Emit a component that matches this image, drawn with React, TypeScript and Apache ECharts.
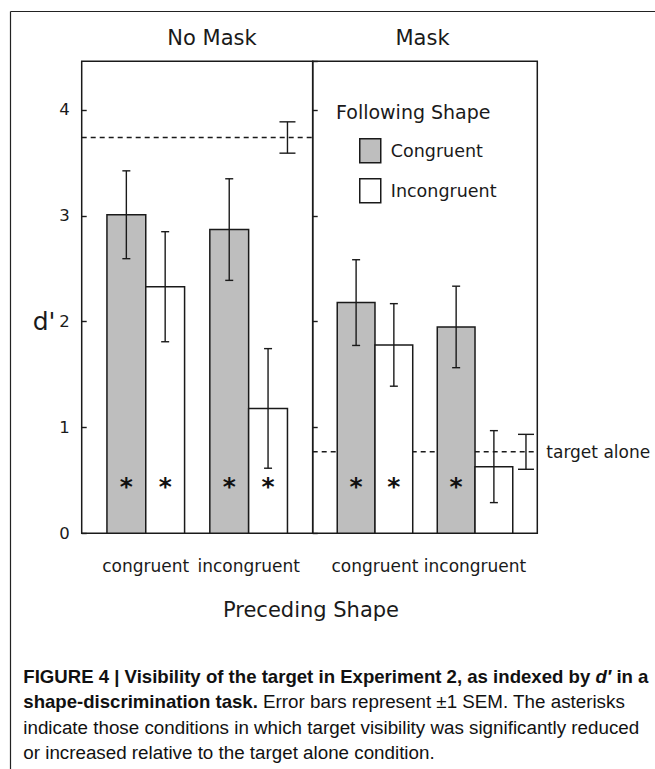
import React, { useEffect, useRef } from 'react';
import * as echarts from 'echarts';

// ---------------- data ----------------
const panels = ['No Mask', 'Mask'];
const precedingShapes = ['congruent', 'incongruent'];
const followingShapes = ['Congruent', 'Incongruent'];
// index = panel * 2 + preceding shape
const congruentMeans = [3.01, 2.87, 2.18, 1.95];
const congruentSEM = [0.415, 0.48, 0.405, 0.385];
const incongruentMeans = [2.33, 1.18, 1.78, 0.63];
const incongruentSEM = [0.52, 0.565, 0.39, 0.34];
const congruentSignificant = [1, 1, 1, 1];
const incongruentSignificant = [1, 1, 1, 0];
const targetAloneMeans = [3.74, 0.77];
const targetAloneSEM = [0.148, 0.165];
const yTickValues = [0, 1, 2, 3, 4];
const yAxisName = "d'";
const xAxisName = 'Preceding Shape';
const legendTitle = 'Following Shape';
const targetAloneLabel = 'target alone';

// ---------------- layout / style ----------------
const GAP = 0.65;
const X_MAX = 4 + 3 * GAP;
const Y_MAX = 4.46;
const TARGET_ERR_X = [5.3, 5.65];
const ASTERISK_Y = 0.47;
const INK = '#1a1a1a';
const GRAY = '#bebebe';
const CHART_FONT = '"DejaVu Sans", sans-serif';
const CAP_FONT = '"Liberation Sans", Arial, sans-serif';

const GRID_TOP = 61.3;
const GRID_H = 472;
const GRIDS = [
  { left: 81.7, width: 231 },
  { left: 312.7, width: 224.6 },
];

function buildOption() {
  const series: any[] = [];
  panels.forEach((panel, p) => {
    series.push({
      type: 'custom',
      name: targetAloneLabel,
      xAxisIndex: p,
      yAxisIndex: p,
      z: 1,
      silent: true,
      data: [[targetAloneMeans[p], targetAloneSEM[p]]],
      renderItem: (params: any, api: any) => {
        const m = api.value(0);
        const s = api.value(1);
        const a = api.coord([0, m]);
        const b = api.coord([X_MAX, m]);
        const cx = api.coord([TARGET_ERR_X[p], m])[0];
        const yt = api.coord([0, m + s])[1];
        const yb = api.coord([0, m - s])[1];
        const ls = { stroke: INK, lineWidth: 1.4 };
        const children: any[] = [
          { type: 'line', shape: { x1: a[0], y1: a[1], x2: b[0], y2: b[1] }, style: { ...ls, lineDash: [5, 4] } },
          { type: 'line', shape: { x1: cx, y1: yt, x2: cx, y2: yb }, style: ls },
          { type: 'line', shape: { x1: cx - 8, y1: yt, x2: cx + 8, y2: yt }, style: ls },
          { type: 'line', shape: { x1: cx - 8, y1: yb, x2: cx + 8, y2: yb }, style: ls },
        ];
        if (p === 1) {
          children.push({
            type: 'text',
            x: b[0] + 9,
            y: a[1],
            style: { text: targetAloneLabel, fill: INK, fontSize: 17, fontFamily: CHART_FONT, align: 'left', verticalAlign: 'middle' },
          });
        }
        return { type: 'group', children };
      },
    });

    followingShapes.forEach((fs, f) => {
      const means = f === 0 ? congruentMeans : incongruentMeans;
      const sems = f === 0 ? congruentSEM : incongruentSEM;
      const sig = f === 0 ? congruentSignificant : incongruentSignificant;
      series.push({
        type: 'custom',
        name: fs,
        xAxisIndex: p,
        yAxisIndex: p,
        z: 2,
        silent: true,
        itemStyle: { color: f === 0 ? GRAY : '#ffffff', borderColor: INK, borderWidth: 1.5 },
        data: precedingShapes.map((name, g) => ({
          name,
          value: [g, means[p * 2 + g], sems[p * 2 + g], sig[p * 2 + g]],
        })),
        renderItem: (params: any, api: any) => {
          const g = api.value(0);
          const m = api.value(1);
          const s = api.value(2);
          const isSig = api.value(3);
          const x0 = GAP + g * (2 + GAP) + f;
          const p0 = api.coord([x0, m]);
          const p1 = api.coord([x0 + 1, 0]);
          const cx = api.coord([x0 + 0.5, 0])[0];
          const yt = api.coord([0, m + s])[1];
          const yb = api.coord([0, m - s])[1];
          const ls = { stroke: INK, lineWidth: 1.4 };
          const children: any[] = [
            {
              type: 'rect',
              shape: { x: p0[0], y: p0[1], width: p1[0] - p0[0], height: p1[1] - p0[1] },
              style: { fill: f === 0 ? GRAY : '#ffffff', stroke: INK, lineWidth: 1.5 },
            },
            { type: 'line', shape: { x1: cx, y1: yt, x2: cx, y2: yb }, style: ls },
            { type: 'line', shape: { x1: cx - 4, y1: yt, x2: cx + 4, y2: yt }, style: ls },
            { type: 'line', shape: { x1: cx - 4, y1: yb, x2: cx + 4, y2: yb }, style: ls },
          ];
          if (isSig) {
            const ay = api.coord([0, ASTERISK_Y])[1];
            children.push({
              type: 'text',
              x: cx,
              y: ay + 3,
              style: { text: '*', fill: '#111', fontSize: 25, fontWeight: 'bold', fontFamily: CHART_FONT, align: 'center', verticalAlign: 'middle' },
            });
          }
          if (f === 0) {
            const gc = api.coord([GAP + g * (2 + GAP) + 1, 0]);
            children.push({
              type: 'text',
              x: gc[0],
              y: gc[1] + 33,
              style: { text: precedingShapes[g], fill: INK, fontSize: 17, fontFamily: CHART_FONT, align: 'center', verticalAlign: 'middle' },
            });
          }
          return { type: 'group', children };
        },
      });
    });
  });

  const caption = [
    '{b|FIGURE 4 | Visibility of the target in Experiment 2, as indexed by }{bi|d\u2032}{b| in a}',
    '{b|shape-discrimination task.}{r| Error bars represent \u00B11 SEM. The asterisks}',
    '{r|indicate those conditions in which target visibility was significantly reduced}',
    '{r|or increased relative to the target alone condition.}',
  ];
  const capRich = {
    b: { fontSize: 18.6, fontFamily: CAP_FONT, fontWeight: 'bold', fill: '#111' },
    bi: { fontSize: 18.6, fontFamily: CAP_FONT, fontWeight: 'bold', fontStyle: 'italic', fill: '#111' },
    r: { fontSize: 18.8, fontFamily: CAP_FONT, fontWeight: 'normal', fill: '#111' },
  };

  const graphic: any[] = [
    { type: 'line', shape: { x1: 10.5, y1: 11.5, x2: 655, y2: 11.5 }, style: { stroke: '#222', lineWidth: 1.2 } },
    { type: 'line', shape: { x1: 10.5, y1: 11.5, x2: 10.5, y2: 769 }, style: { stroke: '#222', lineWidth: 1.2 } },
    { type: 'text', x: 212, y: 37.5, style: { text: panels[0], fill: INK, fontSize: 21, fontFamily: CHART_FONT, align: 'center', verticalAlign: 'middle' } },
    { type: 'text', x: 422.5, y: 37.5, style: { text: panels[1], fill: INK, fontSize: 21, fontFamily: CHART_FONT, align: 'center', verticalAlign: 'middle' } },
    { type: 'text', x: 336, y: 112, style: { text: legendTitle, fill: INK, fontSize: 19, fontFamily: CHART_FONT, align: 'left', verticalAlign: 'middle' } },
    { type: 'text', x: 44, y: 321, style: { text: yAxisName, fill: INK, fontSize: 25, fontFamily: CHART_FONT, align: 'center', verticalAlign: 'middle' } },
    { type: 'text', x: 311, y: 610, style: { text: xAxisName, fill: INK, fontSize: 21, fontFamily: CHART_FONT, align: 'center', verticalAlign: 'middle' } },
  ];
  caption.forEach((t, i) => {
    graphic.push({
      type: 'text',
      x: 23.3,
      y: 676 + i * 25.5,
      style: { text: t, rich: capRich, fill: '#111', fontSize: 18.8, fontFamily: CAP_FONT, align: 'left', verticalAlign: 'middle' },
    });
  });

  return {
    animation: false,
    backgroundColor: '#ffffff',
    textStyle: { fontFamily: CHART_FONT },
    grid: GRIDS.map((g) => ({
      left: g.left,
      top: GRID_TOP,
      width: g.width,
      height: GRID_H,
      show: true,
      borderColor: INK,
      borderWidth: 1.5,
      backgroundColor: 'transparent',
    })),
    xAxis: GRIDS.map((g, i) => ({
      type: 'value',
      gridIndex: i,
      min: 0,
      max: X_MAX,
      show: false,
    })),
    yAxis: GRIDS.map((g, i) => ({
      type: 'value',
      gridIndex: i,
      min: 0,
      max: Y_MAX,
      interval: 1,
      axisLine: { show: false },
      splitLine: { show: false },
      axisTick: { show: true, inside: true, length: 5, lineStyle: { color: INK, width: 1.4 } },
      axisLabel: {
        show: i === 0,
        showMaxLabel: false,
        margin: 12,
        fontSize: 16.5,
        color: INK,
        fontFamily: CHART_FONT,
        formatter: (v: number) => (yTickValues.includes(v) ? String(v) : ''),
      },
    })),
    legend: {
      orient: 'vertical',
      left: 359,
      top: 138,
      padding: 0,
      itemWidth: 21,
      itemHeight: 24,
      itemGap: 14.6,
      selectedMode: false,
      icon: 'rect',
      textStyle: { fontSize: 17.5, color: INK, fontFamily: CHART_FONT, padding: [0, 0, 0, 5] },
      data: followingShapes.map((name, f) => ({
        name,
        icon: 'rect',
        itemStyle: { color: f === 0 ? GRAY : '#ffffff', borderColor: INK, borderWidth: 1.5 },
      })),
    },
    graphic,
    series,
  };
}

export default function App() {
  const ref = useRef<HTMLDivElement>(null);
  useEffect(() => {
    if (!ref.current) return;
    const chart = echarts.init(ref.current, undefined, { renderer: 'svg' });
    chart.setOption(buildOption() as any);
    return () => chart.dispose();
  }, []);
  return (
    <div
      ref={ref}
      style={{ position: 'absolute', left: 0, top: 0, width: 655, height: 769, background: '#fff' }}
    />
  );
}
